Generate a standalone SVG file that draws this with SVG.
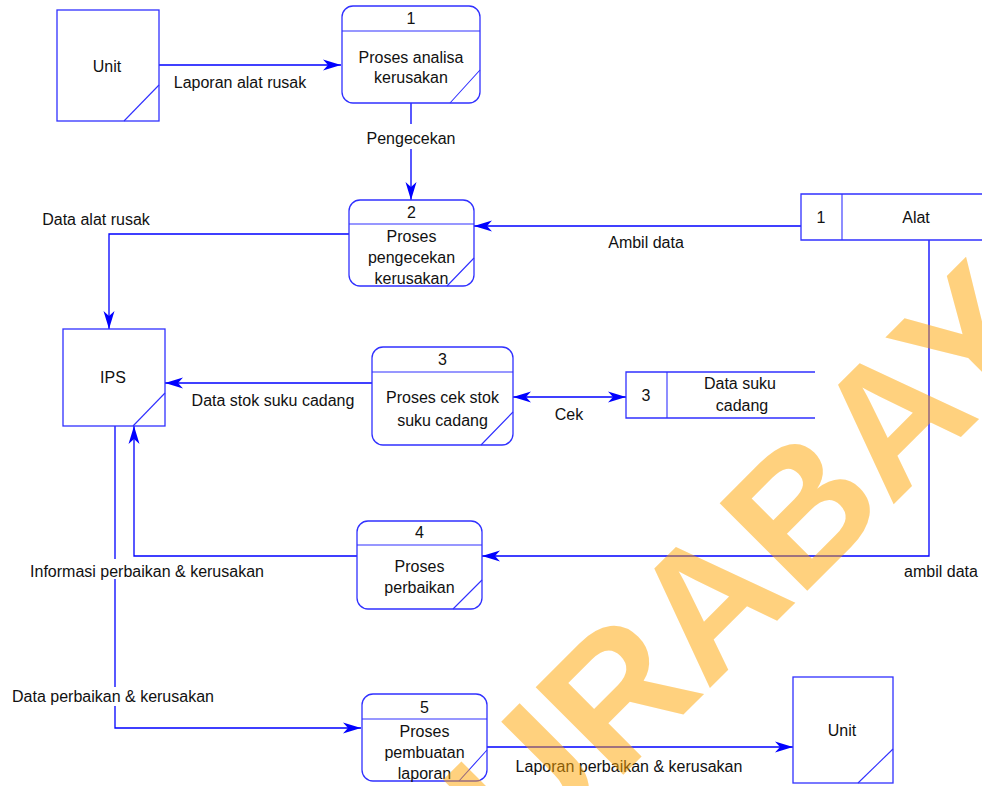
<svg xmlns="http://www.w3.org/2000/svg" width="982" height="786" viewBox="0 0 982 786">
  <style>
    .box { fill: #ffffff; stroke: #3030ff; stroke-width: 1.3; }
    .edge { fill: none; stroke: #3030ff; stroke-width: 1.1; }
    .flow { fill: none; stroke: #0000ff; stroke-width: 1.3; }
    .t { font-family: "Liberation Sans", Arial, Helvetica, sans-serif; font-size: 16px; fill: #111111; text-anchor: middle; }
    .wm { font-family: "Liberation Sans", Arial, Helvetica, sans-serif; font-weight: bold; font-size: 180px; fill: #ffa500; opacity: 0.5; }
  </style>
  <defs>
    <marker id="arrow" markerUnits="userSpaceOnUse" markerWidth="20" markerHeight="12" refX="18" refY="6" orient="auto-start-reverse">
      <path d="M0,0.5 L18,6 L0,11.5 L5,6 Z" fill="#0000ff"/>
    </marker>
  </defs>

  <rect width="982" height="786" fill="#ffffff"/>

  <!-- data flows -->
  <g id="connectors">
    <path class="flow" d="M159,65 H341" marker-end="url(#arrow)"/>
    <path class="flow" d="M411,103 V124 M411,149 V200" marker-end="url(#arrow)"/>
    <path class="flow" d="M801,226 H474" marker-end="url(#arrow)"/>
    <path class="flow" d="M349,234 H109 V329" marker-end="url(#arrow)"/>
    <path class="flow" d="M373,383 H165" marker-end="url(#arrow)"/>
    <path class="flow" d="M513,397 H626" marker-start="url(#arrow)" marker-end="url(#arrow)"/>
    <path class="flow" d="M929,240 V556 H482" marker-end="url(#arrow)"/>
    <path class="flow" d="M357,556 H134 V426" marker-end="url(#arrow)"/>
    <path class="flow" d="M115,426 V559 M115,579 V687 M115,706 V728 H361" marker-end="url(#arrow)"/>
    <path class="flow" d="M487,747 H793" marker-end="url(#arrow)"/>

    <text class="t" x="240" y="88">Laporan alat rusak</text>
    <text class="t" x="411" y="144">Pengecekan</text>
    <text class="t" x="96" y="225">Data alat rusak</text>
    <text class="t" x="646" y="248">Ambil data</text>
    <text class="t" x="273" y="406">Data stok suku cadang</text>
    <text class="t" x="569" y="420">Cek</text>
    <text class="t" x="147" y="577">Informasi perbaikan &amp; kerusakan</text>
    <text class="t" x="941" y="577">ambil data</text>
    <text class="t" x="113" y="702">Data perbaikan &amp; kerusakan</text>
    <text class="t" x="629" y="772">Laporan perbaikan &amp; kerusakan</text>
  </g>

  <!-- external entities -->
  <g id="unit-top">
    <rect class="box" x="57" y="10" width="102" height="111"/>
    <path class="edge" d="M159,85 L124,121"/>
    <text class="t" x="107" y="72">Unit</text>
  </g>
  <g id="ips">
    <rect class="box" x="63" y="329" width="102" height="97"/>
    <path class="edge" d="M165,393 L133,426"/>
    <text class="t" x="113" y="383">IPS</text>
  </g>
  <g id="unit-bottom">
    <rect class="box" x="793" y="677" width="100" height="106"/>
    <path class="edge" d="M893,749 L858,783"/>
    <text class="t" x="842" y="736">Unit</text>
  </g>

  <!-- processes -->
  <g id="p1">
    <rect class="box" x="342" y="6" width="138" height="97" rx="11"/>
    <path class="edge" d="M342,31 H480 M480,70 L450,103"/>
    <text class="t" x="411" y="24">1</text>
    <text class="t" x="411" y="63">Proses analisa</text>
    <text class="t" x="411" y="83">kerusakan</text>
  </g>
  <g id="p2">
    <rect class="box" x="349" y="200" width="125" height="86" rx="11"/>
    <path class="edge" d="M349,224 H474 M474,258 L447,286"/>
    <text class="t" x="411.5" y="218">2</text>
    <text class="t" x="411.5" y="242">Proses</text>
    <text class="t" x="411.5" y="263">pengecekan</text>
    <text class="t" x="411.5" y="284">kerusakan</text>
  </g>
  <g id="p3">
    <rect class="box" x="372" y="347" width="141" height="98" rx="11"/>
    <path class="edge" d="M372,372 H513 M513,412 L481,445"/>
    <text class="t" x="442.5" y="365">3</text>
    <text class="t" x="442.5" y="403">Proses cek stok</text>
    <text class="t" x="442.5" y="426">suku cadang</text>
  </g>
  <g id="p4">
    <rect class="box" x="357" y="521" width="125" height="88" rx="11"/>
    <path class="edge" d="M357,545 H482 M482,580 L453,609"/>
    <text class="t" x="419.5" y="538">4</text>
    <text class="t" x="419.5" y="572">Proses</text>
    <text class="t" x="419.5" y="593">perbaikan</text>
  </g>
  <g id="p5">
    <rect class="box" x="362" y="694" width="125" height="87" rx="11"/>
    <path class="edge" d="M362,719 H487 M487,750 L459,781"/>
    <text class="t" x="424.5" y="713">5</text>
    <text class="t" x="424.5" y="737">Proses</text>
    <text class="t" x="424.5" y="758">pembuatan</text>
    <text class="t" x="424.5" y="779">laporan</text>
  </g>

  <!-- data stores -->
  <g id="store-alat">
    <path class="box" d="M982,194 H801 V240 H982"/>
    <path class="edge" d="M842,194 V240"/>
    <text class="t" x="821" y="223">1</text>
    <text class="t" x="916" y="223">Alat</text>
  </g>
  <g id="store-suku-cadang">
    <path class="box" d="M815,372 H626 V418 H815"/>
    <path class="edge" d="M667,372 V418"/>
    <text class="t" x="646" y="401">3</text>
    <text class="t" x="740" y="389">Data suku</text>
    <text class="t" x="742" y="411">cadang</text>
  </g>

  <!-- watermark -->
  <text class="wm" transform="translate(438,960) rotate(-45)">SURABAYA</text>
</svg>
